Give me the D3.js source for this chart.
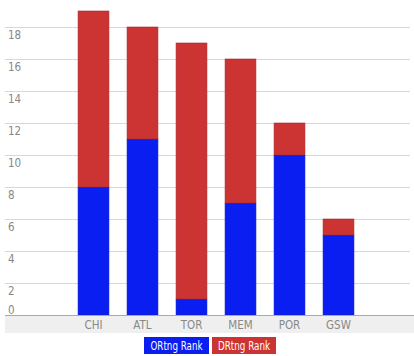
<!DOCTYPE html>
<html>
<head>
<meta charset="utf-8">
<script src="https://cdn.jsdelivr.net/npm/d3@7"></script>
<style>
  body { margin: 0; background: #fff; }
  .canva text { font-family: "DejaVu Sans Condensed", "Open Sans", sans-serif; font-stretch: condensed; }
</style>
</head>
<body>
<div class="canva"></div>
<script>
// data
const teams = ["CHI", "ATL", "TOR", "MEM", "POR", "GSW"];
const ortngRank = [8, 11, 1, 7, 10, 5];
const drtngRank = [11, 7, 16, 9, 2, 1];
const seriesNames = ["ORtng Rank", "DRtng Rank"];
const yTicks = [0, 2, 4, 6, 8, 10, 12, 14, 16, 18];

const colors = ["#0a1ef2", "#cc3434"];
const strokes = ["#0a18c8", "#a82a2a"];

const svg = d3.select(".canva").append("svg")
  .attr("width", 414)
  .attr("height", 356);

const x = d3.scaleBand()
  .domain(teams)
  .range([69, 363])
  .paddingInner(0.37)
  .paddingOuter(0.185);

const y = d3.scaleLinear()
  .domain([0, 18])
  .range([315, 27]);

// gray band behind the category labels
svg.append("rect")
  .attr("x", 5).attr("y", y(0))
  .attr("width", 409).attr("height", 18)
  .attr("fill", "#efefef");

// grid lines
svg.selectAll(".grid")
  .data(yTicks.filter(d => d > 0))
  .enter().append("line")
  .attr("x1", 5).attr("x2", 410)
  .attr("y1", d => y(d) + 0.5).attr("y2", d => y(d) + 0.5)
  .attr("stroke", "#d8d8d8");

// tick labels sit just under each line
svg.selectAll(".ytick")
  .data(yTicks)
  .enter().append("text")
  .attr("x", 8)
  .attr("y", d => d === 0 ? y(d) - 5 : y(d) + 8)
  .attr("dominant-baseline", "middle")
  .attr("font-size", 11.5)
  .attr("fill", "#888")
  .text(d => d);

const rows = teams.map((t, i) => ({ team: t, o: ortngRank[i], d: drtngRank[i] }));
const stacked = d3.stack().keys(["o", "d"])(rows);

svg.selectAll(".layer")
  .data(stacked)
  .enter().append("g")
  .attr("fill", (d, i) => colors[i])
  .attr("stroke", (d, i) => strokes[i])
  .attr("stroke-width", 0.6)
  .selectAll("rect")
  .data(d => d)
  .enter().append("rect")
  .attr("x", d => x(d.data.team))
  .attr("y", d => y(d[1]))
  .attr("width", x.bandwidth())
  .attr("height", d => y(d[0]) - y(d[1]));

// baseline
svg.append("line")
  .attr("x1", 5).attr("x2", 414)
  .attr("y1", y(0) + 0.5).attr("y2", y(0) + 0.5)
  .attr("stroke", "#aaa");

// category labels
svg.selectAll(".xtick")
  .data(teams)
  .enter().append("text")
  .attr("x", d => x(d) + x.bandwidth() / 2)
  .attr("y", 325)
  .attr("text-anchor", "middle")
  .attr("dominant-baseline", "middle")
  .attr("font-size", 11.5)
  .attr("fill", "#888")
  .text(d => d);

// legend
const legendX = [144, 212];
const legendW = [65, 64];
const legend = svg.selectAll(".legend")
  .data(seriesNames)
  .enter().append("g")
  .attr("transform", (d, i) => `translate(${legendX[i]},337)`);

legend.append("rect")
  .attr("width", (d, i) => legendW[i])
  .attr("height", 17)
  .attr("fill", (d, i) => colors[i]);

legend.append("text")
  .attr("x", (d, i) => legendW[i] / 2)
  .attr("y", 9)
  .attr("text-anchor", "middle")
  .attr("dominant-baseline", "middle")
  .attr("font-size", 13)
  .attr("fill", "#fff")
  .attr("textLength", 52)
  .attr("lengthAdjust", "spacingAndGlyphs")
  .text(d => d);
</script>
</body>
</html>
